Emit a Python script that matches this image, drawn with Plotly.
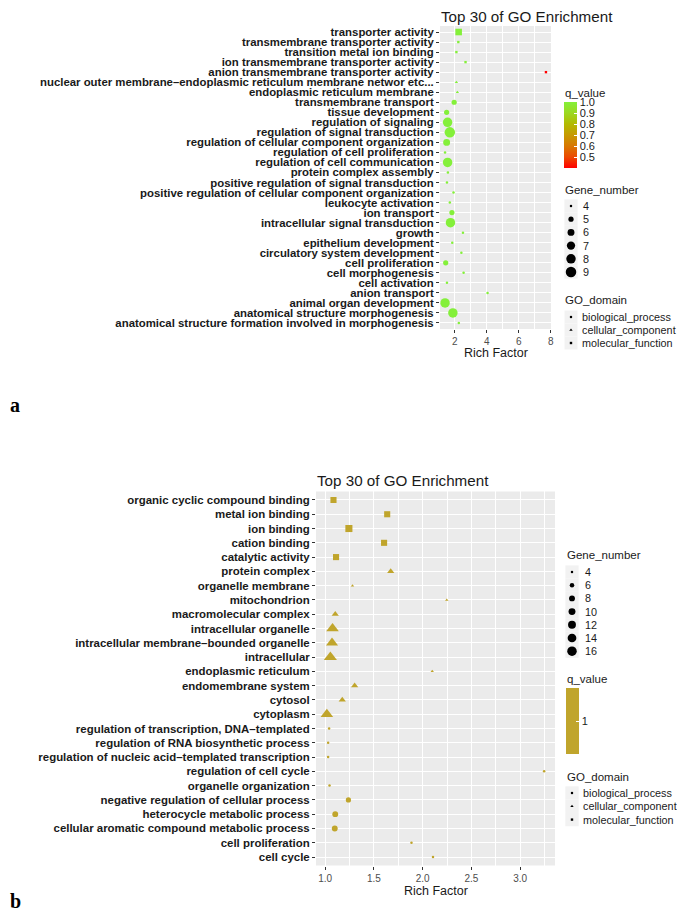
import math
import plotly.graph_objects as go

# The page body has an 8px margin: the figure is sized to fit inside the window
# without scrollbars, and all layout positions below are given in window pixels.
OFF = 8
WIN_W, WIN_H = 685, 920
W, H = WIN_W - 2 * OFF, WIN_H - 2 * OFF

# ---------------- Panel a data ----------------
a_terms = [
    "transporter activity",
    "transmembrane transporter activity",
    "transition metal ion binding",
    "ion transmembrane transporter activity",
    "anion transmembrane transporter activity",
    "nuclear outer membrane–endoplasmic reticulum membrane networ etc...",
    "endoplasmic reticulum membrane",
    "transmembrane transport",
    "tissue development",
    "regulation of signaling",
    "regulation of signal transduction",
    "regulation of cellular component organization",
    "regulation of cell proliferation",
    "regulation of cell communication",
    "protein complex assembly",
    "positive regulation of signal transduction",
    "positive regulation of cellular component organization",
    "leukocyte activation",
    "ion transport",
    "intracellular signal transduction",
    "growth",
    "epithelium development",
    "circulatory system development",
    "cell proliferation",
    "cell morphogenesis",
    "cell activation",
    "anion transport",
    "animal organ development",
    "anatomical structure morphogenesis",
    "anatomical structure formation involved in morphogenesis",
]
a_rich = [2.24, 2.22, 2.10, 2.67, 7.70, 2.10, 2.16, 1.96, 1.49, 1.55,
          1.69, 1.49, 1.39, 1.55, 1.57, 1.51, 1.92, 1.69, 1.82, 1.73,
          2.51, 1.84, 2.41, 1.43, 2.55, 1.51, 4.05, 1.39, 1.88, 2.25]
a_genes = [6, 4, 4, 4, 4, 4, 4, 5, 5, 8,
           9, 6, 4, 8, 4, 4, 4, 4, 5, 8,
           4, 4, 4, 5, 4, 4, 4, 8, 8, 4]
a_qvalue = [1.0, 1.0, 1.0, 1.0, 0.40, 1.0, 1.0, 1.0, 1.0, 1.0,
            1.0, 1.0, 1.0, 1.0, 1.0, 1.0, 1.0, 1.0, 1.0, 1.0,
            1.0, 1.0, 1.0, 1.0, 1.0, 1.0, 1.0, 1.0, 1.0, 1.0]
a_domain = (["molecular_function"] * 5 + ["cellular_component"] * 2 +
            ["biological_process"] * 23)

# ---------------- Panel b data ----------------
b_terms = [
    "organic cyclic compound binding",
    "metal ion binding",
    "ion binding",
    "cation binding",
    "catalytic activity",
    "protein complex",
    "organelle membrane",
    "mitochondrion",
    "macromolecular complex",
    "intracellular organelle",
    "intracellular membrane–bounded organelle",
    "intracellular",
    "endoplasmic reticulum",
    "endomembrane system",
    "cytosol",
    "cytoplasm",
    "regulation of transcription, DNA–templated",
    "regulation of RNA biosynthetic process",
    "regulation of nucleic acid–templated transcription",
    "regulation of cell cycle",
    "organelle organization",
    "negative regulation of cellular process",
    "heterocycle metabolic process",
    "cellular aromatic compound metabolic process",
    "cell proliferation",
    "cell cycle",
]
b_rich = [1.085, 1.636, 1.243, 1.604, 1.111, 1.672, 1.28, 2.247, 1.103, 1.075,
          1.07, 1.053, 2.098, 1.302, 1.175, 1.017, 1.04, 1.03, 1.03, 3.246,
          1.044, 1.238, 1.103, 1.098, 1.885, 2.106]
b_genes = [9, 9, 11, 9, 9, 7, 4, 4, 7, 15,
           14, 16, 4, 7, 7, 15, 4, 4, 4, 4,
           4, 7, 8, 8, 4, 4]
b_qvalue = [1] * 26
b_domain = (["molecular_function"] * 5 + ["cellular_component"] * 11 +
            ["biological_process"] * 10)

# legend levels / tick labels
a_size_levels = [4, 5, 6, 7, 8, 9]
b_size_levels = [4, 6, 8, 10, 12, 14, 16]
domain_levels = ["biological_process", "cellular_component", "molecular_function"]
a_q_ticks = [0.5, 0.6, 0.7, 0.8, 0.9, 1.0]
b_q_ticks = [1]

# ---------------- styles ----------------
FONT = "Liberation Sans, Arial, sans-serif"
SYMBOL = {"biological_process": "circle", "cellular_component": "triangle-up",
          "molecular_function": "square"}
SYM_SCALE = {"biological_process": 1.0, "cellular_component": 1.2,
             "molecular_function": 0.95}
A_SCALE = [[0.0, "#FF0000"], [0.167, "#EC4A00"], [0.333, "#D87800"],
           [0.5, "#C69A00"], [0.667, "#B2BA00"], [0.833, "#9CD820"],
           [1.0, "#84F03A"]]
B_COLOR = "#C0A52C"
B_SCALE = [[0, B_COLOR], [1, B_COLOR]]
TXT = "#1A1A1A"


def gg_size(g, gmin, gmax, dmin, dmax):
    t = (g - gmin) / (gmax - gmin) if gmax > gmin else 1
    return math.sqrt(dmin ** 2 + (dmax ** 2 - dmin ** 2) * t)


def expand(vals, f=0.05):
    lo, hi = min(vals), max(vals)
    d = (hi - lo) * f
    return [lo - d, hi + d]


def X(px):
    return (px - OFF) / W


def Y(py):
    return 1 - (py - OFF) / H


a_gmin, a_gmax = min(a_size_levels), max(a_size_levels)
b_gmin, b_gmax = min(b_size_levels), max(b_size_levels)
A_D = (2.5, 10.5)
B_D = (2.5, 9.5)

a_sizes = [gg_size(g, a_gmin, a_gmax, *A_D) * SYM_SCALE[d] for g, d in zip(a_genes, a_domain)]
b_sizes = [gg_size(g, b_gmin, b_gmax, *B_D) * SYM_SCALE[d] for g, d in zip(b_genes, b_domain)]


def cbar(x_px, top_px, ticks, labels):
    return dict(x=X(x_px), xanchor="left", y=Y(top_px), yanchor="top",
                len=66, lenmode="pixels", thickness=13, thicknessmode="pixels",
                outlinewidth=0, xpad=0, ypad=0,
                tickvals=ticks, ticktext=labels,
                ticks="inside", ticklen=3, tickcolor="white",
                tickfont=dict(family=FONT, size=11, color=TXT))


fig = go.Figure()

# panel a
fig.add_trace(go.Scatter(
    x=a_rich, y=a_terms, mode="markers", xaxis="x", yaxis="y", showlegend=False,
    marker=dict(symbol=[SYMBOL[d] for d in a_domain], size=a_sizes, opacity=1,
                color=a_qvalue, colorscale=A_SCALE, cmin=min(a_qvalue), cmax=max(a_qvalue),
                line=dict(width=0), showscale=True,
                colorbar=cbar(564, 102, a_q_ticks, [f"{v:.1f}" for v in a_q_ticks])),
))

# panel b
fig.add_trace(go.Scatter(
    x=b_rich, y=b_terms, mode="markers", xaxis="x2", yaxis="y2", showlegend=False,
    marker=dict(symbol=[SYMBOL[d] for d in b_domain], size=b_sizes, opacity=1,
                color=b_qvalue, colorscale=B_SCALE, cmin=0.5, cmax=1.5,
                line=dict(width=0), showscale=True,
                colorbar=cbar(566, 688, b_q_ticks, [str(v) for v in b_q_ticks])),
))

# ---------------- legends drawn on an overlay (pixel) axis ----------------
ann = []


def text_ann(text, x_px, y_px, size, anchor="left", **font):
    ann.append(dict(text=text, x=X(x_px), y=Y(y_px), xref="paper", yref="paper",
                    xanchor=anchor, yanchor="middle", showarrow=False, borderpad=0,
                    font=dict(family=FONT, size=size, color=TXT, **font)))


def legend_block(title, title_xy, key_x, text_x, y0, step, labels, sizes, symbols):
    text_ann(title, title_xy[0], title_xy[1], 11.5)
    ys = [y0 + step * i for i in range(len(labels))]
    fig.add_trace(go.Scatter(x=[key_x] * len(ys), y=ys, mode="markers", xaxis="x3", yaxis="y3",
                             showlegend=False, hoverinfo="skip",
                             marker=dict(symbol="square", size=step, color="#F2F2F2",
                                         opacity=1, line=dict(width=0))))
    fig.add_trace(go.Scatter(x=[key_x] * len(ys), y=ys, mode="markers", xaxis="x3", yaxis="y3",
                             showlegend=False, hoverinfo="skip",
                             marker=dict(symbol=symbols, size=sizes, color="black",
                                         opacity=1, line=dict(width=0))))
    for lab, yy in zip(labels, ys):
        text_ann(str(lab), text_x, yy, 10.8)


# a legends
text_ann("q_value", 564, 93, 11.5)
legend_block("Gene_number", (564, 190), 571, 582, 206, 13.2, a_size_levels,
             [gg_size(g, a_gmin, a_gmax, *A_D) for g in a_size_levels],
             ["circle"] * len(a_size_levels))
legend_block("GO_domain", (564, 300), 571, 581, 317, 13, domain_levels,
             [gg_size(a_gmin, a_gmin, a_gmax, *A_D) * SYM_SCALE[d] for d in domain_levels],
             [SYMBOL[d] for d in domain_levels])

# b legends
legend_block("Gene_number", (566, 555), 572, 584, 572, 13.2, b_size_levels,
             [gg_size(g, b_gmin, b_gmax, *B_D) for g in b_size_levels],
             ["circle"] * len(b_size_levels))
text_ann("q_value", 566, 679, 11.5)
legend_block("GO_domain", (566, 777), 572, 582, 793, 13.3, domain_levels,
             [gg_size(b_gmin, b_gmin, b_gmax, *B_D) * SYM_SCALE[d] for d in domain_levels],
             [SYMBOL[d] for d in domain_levels])

# titles, axis titles, panel letters
for ax, ty in (("x", 16), ("x2", 481)):
    ann.append(dict(text="Top 30 of GO Enrichment", x=0, xref=f"{ax} domain", y=Y(ty), yref="paper",
                    xanchor="left", yanchor="middle", showarrow=False, borderpad=0,
                    font=dict(family=FONT, size=15.2, color=TXT)))
for ax, ty in (("x", 353), ("x2", 891)):
    ann.append(dict(text="Rich Factor", x=0.5, xref=f"{ax} domain", y=Y(ty), yref="paper",
                    xanchor="center", yanchor="middle", showarrow=False, borderpad=0,
                    font=dict(family=FONT, size=12.5, color=TXT)))
for lab, (lx, ly) in (("a", (9, 405)), ("b", (9, 901))):
    ann.append(dict(text=lab, x=X(lx), y=Y(ly), xref="paper", yref="paper",
                    xanchor="left", yanchor="middle", showarrow=False, borderpad=0,
                    font=dict(family="Liberation Serif, Times New Roman, serif", size=20,
                              color="black", weight="bold")))

shapes = [dict(type="rect", xref=f"{ax} domain", yref=f"{ay} domain", x0=0, x1=1, y0=0, y1=1,
               fillcolor="#EBEBEB", line=dict(width=0), layer="below")
          for ax, ay in (("x", "y"), ("x2", "y2"))]

xcommon = dict(showgrid=True, gridcolor="white", gridwidth=1.1, zeroline=False,
               ticks="outside", ticklen=3, tickcolor="#333333", showline=False,
               tickfont=dict(family=FONT, size=10, color="#4D4D4D"), fixedrange=True)
ycommon = dict(showgrid=True, gridcolor="white", gridwidth=1.1, zeroline=False,
               ticks="outside", ticklen=3, tickcolor="#333333", showline=False,
               type="category", categoryorder="array", tickmode="array", fixedrange=True)

fig.update_layout(
    width=W, height=H, margin=dict(l=0, r=0, t=0, b=0, autoexpand=False),
    paper_bgcolor="white", plot_bgcolor="rgba(0,0,0,0)",
    xaxis=dict(**xcommon, domain=[X(440), X(551)], anchor="y", range=expand(a_rich),
               tickmode="linear", tick0=2, dtick=2,
               minor=dict(dtick=1, tick0=1, showgrid=True, gridcolor="white", gridwidth=0.5)),
    yaxis=dict(**ycommon, domain=[Y(329), Y(26)], anchor="x", categoryarray=a_terms,
               tickvals=a_terms, ticktext=a_terms,
               tickfont=dict(family=FONT, size=11.4, color=TXT, weight="bold"),
               range=[len(a_terms) - 0.4, -0.6]),
    xaxis2=dict(**xcommon, domain=[X(316), X(555)], anchor="y2", range=expand(b_rich),
                tickmode="linear", tick0=1.0, dtick=0.5, tickformat=".1f",
                minor=dict(dtick=0.25, tick0=1.0, showgrid=True, gridcolor="white", gridwidth=0.5)),
    yaxis2=dict(**ycommon, domain=[Y(865.6), Y(491.4)], anchor="x2", categoryarray=b_terms,
                tickvals=b_terms, ticktext=b_terms,
                tickfont=dict(family=FONT, size=11.45, color=TXT, weight="bold"),
                range=[len(b_terms) - 0.4, -0.6]),
    xaxis3=dict(domain=[0, 1], range=[OFF, OFF + W], visible=False, anchor="y3", fixedrange=True),
    yaxis3=dict(domain=[0, 1], range=[OFF + H, OFF], visible=False, anchor="x3", fixedrange=True),
    annotations=ann, shapes=shapes, showlegend=False,
    font=dict(family=FONT),
)

fig.write_html("out.html")
